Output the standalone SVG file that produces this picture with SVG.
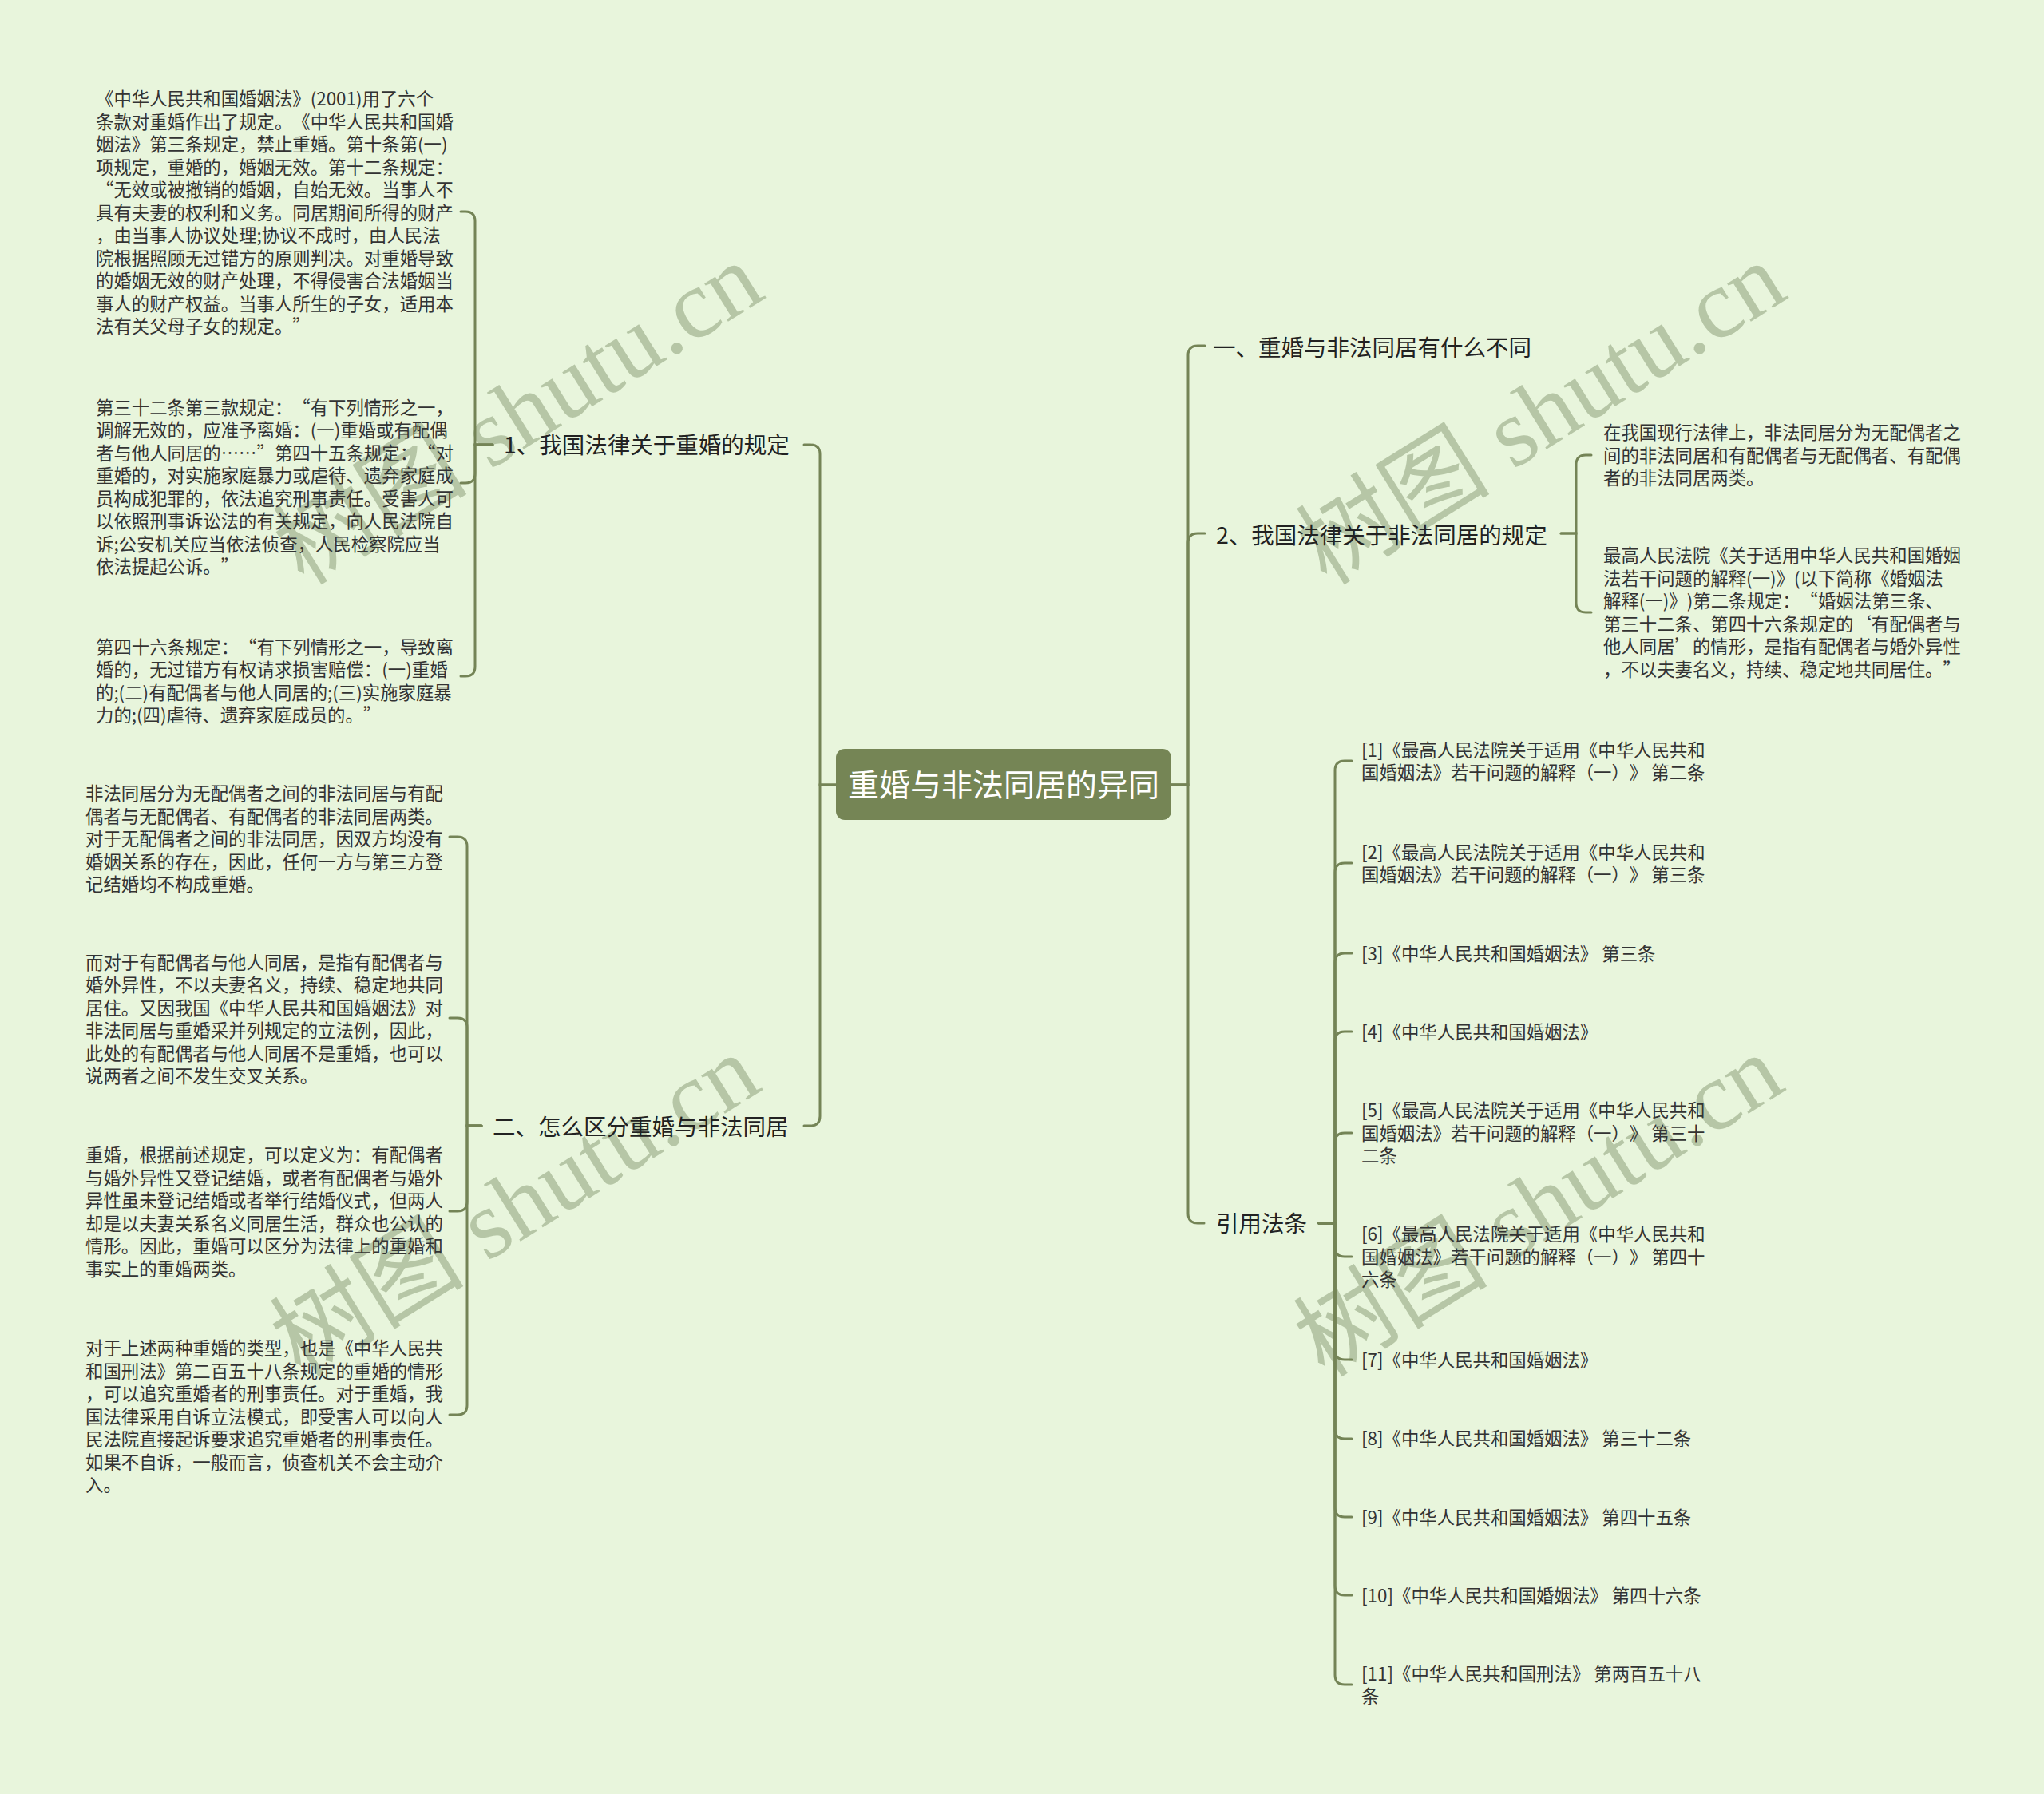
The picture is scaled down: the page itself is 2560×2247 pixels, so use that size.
<svg xmlns="http://www.w3.org/2000/svg" width="2560" height="2247" viewBox="0 0 2560 2247">
<style>
.conn{fill:none;stroke:#748456;stroke-width:3;stroke-linecap:round}
.body{font-family:"Noto Sans CJK SC","Noto Sans",sans-serif;font-size:22.4px;fill:#333333;text-spacing-trim:space-all}
.branch{font-family:"Noto Sans CJK SC","Noto Sans",sans-serif;font-size:28.5px;fill:#222222;text-spacing-trim:space-all}
.root{font-family:"Noto Sans CJK SC","Noto Sans",sans-serif;font-size:39px;fill:#ffffff}
.wm{font-family:"Liberation Serif","Noto Sans CJK SC",serif;font-size:122px;fill:#b6c6a6;text-anchor:middle;dominant-baseline:central}
</style>
<rect x="0" y="0" width="2560" height="2247" fill="#e8f5dc"/>
<g id="watermarks">
<text class="wm" transform="translate(649,518) rotate(-32)">树图 shutu.cn</text>
<text class="wm" transform="translate(1930,518) rotate(-32)">树图 shutu.cn</text>
<text class="wm" transform="translate(645,1510) rotate(-32)">树图 shutu.cn</text>
<text class="wm" transform="translate(1927,1510) rotate(-32)">树图 shutu.cn</text>
</g>
<g id="connectors">
<path class="conn" d="M1047,983 H1027 V569 Q1027,557 1015,557 H1007"/>
<path class="conn" d="M1047,983 H1027 V1398 Q1027,1410 1015,1410 H1007"/>
<path class="conn" d="M1467,983 H1488 V445 Q1488,433 1500,433 H1509"/>
<path class="conn" d="M1467,983 H1488 V680 Q1488,668 1500,668 H1509"/>
<path class="conn" d="M1467,983 H1488 V1520 Q1488,1532 1500,1532 H1508"/>
<path class="conn" d="M617,557 H595 V277 Q595,265 583,265 H577"/>
<path class="conn" d="M617,557 H595 V593 Q595,605 583,605 H577"/>
<path class="conn" d="M617,557 H595 V835 Q595,847 583,847 H577"/>
<path class="conn" d="M603,1410 H585 V1060 Q585,1048 573,1048 H563"/>
<path class="conn" d="M603,1410 H585 V1287 Q585,1275 573,1275 H563"/>
<path class="conn" d="M603,1410 H585 V1505 Q585,1517 573,1517 H563"/>
<path class="conn" d="M603,1410 H585 V1760 Q585,1772 573,1772 H563"/>
<path class="conn" d="M1955,668 H1974 V582 Q1974,570 1986,570 H1993"/>
<path class="conn" d="M1955,668 H1974 V755 Q1974,767 1986,767 H1993"/>
<path class="conn" d="M1652,1532 H1672 V965 Q1672,953 1684,953 H1693"/>
<path class="conn" d="M1652,1532 H1672 V1093 Q1672,1081 1684,1081 H1693"/>
<path class="conn" d="M1652,1532 H1672 V1206 Q1672,1194 1684,1194 H1693"/>
<path class="conn" d="M1652,1532 H1672 V1304 Q1672,1292 1684,1292 H1693"/>
<path class="conn" d="M1652,1532 H1672 V1431 Q1672,1419 1684,1419 H1693"/>
<path class="conn" d="M1652,1532 H1672 V1562 Q1672,1574 1684,1574 H1693"/>
<path class="conn" d="M1652,1532 H1672 V1691 Q1672,1703 1684,1703 H1693"/>
<path class="conn" d="M1652,1532 H1672 V1790 Q1672,1802 1684,1802 H1693"/>
<path class="conn" d="M1652,1532 H1672 V1888 Q1672,1900 1684,1900 H1693"/>
<path class="conn" d="M1652,1532 H1672 V1986 Q1672,1998 1684,1998 H1693"/>
<path class="conn" d="M1652,1532 H1672 V2098 Q1672,2110 1684,2110 H1693"/>
</g>
<g id="root">
<rect x="1047" y="938" width="420" height="89" rx="11" fill="#758555"/>
<text class="root" x="1257" y="997" text-anchor="middle">重婚与非法同居的异同</text>
</g>
<g id="branch-left-1">
<text class="branch" x="631" y="568">1、我国法律关于重婚的规定</text>
</g>
<g id="branch-left-2">
<text class="branch" x="617" y="1422">二、怎么区分重婚与非法同居</text>
</g>
<g id="branch-right-1">
<text class="branch" x="1519" y="446">一、重婚与非法同居有什么不同</text>
</g>
<g id="branch-right-2">
<text class="branch" x="1523" y="681">2、我国法律关于非法同居的规定</text>
</g>
<g id="branch-right-3">
<text class="branch" x="1523" y="1543">引用法条</text>
</g>
<g id="leaf-l1-1">
<text class="body">
<tspan x="120" y="132">《中华人民共和国婚姻法》(2001)用了六个</tspan>
<tspan x="120" y="160.5">条款对重婚作出了规定。《中华人民共和国婚</tspan>
<tspan x="120" y="189">姻法》第三条规定，禁止重婚。第十条第(一)</tspan>
<tspan x="120" y="217.5">项规定，重婚的，婚姻无效。第十二条规定：</tspan>
<tspan x="120" y="246">“无效或被撤销的婚姻，自始无效。当事人不</tspan>
<tspan x="120" y="274.5">具有夫妻的权利和义务。同居期间所得的财产</tspan>
<tspan x="120" y="303">，由当事人协议处理;协议不成时，由人民法</tspan>
<tspan x="120" y="331.5">院根据照顾无过错方的原则判决。对重婚导致</tspan>
<tspan x="120" y="360">的婚姻无效的财产处理，不得侵害合法婚姻当</tspan>
<tspan x="120" y="388.5">事人的财产权益。当事人所生的子女，适用本</tspan>
<tspan x="120" y="417">法有关父母子女的规定。”</tspan>
</text>
</g>
<g id="leaf-l1-2">
<text class="body">
<tspan x="120" y="518.5">第三十二条第三款规定：“有下列情形之一，</tspan>
<tspan x="120" y="547">调解无效的，应准予离婚：(一)重婚或有配偶</tspan>
<tspan x="120" y="575.5">者与他人同居的……”第四十五条规定：“对</tspan>
<tspan x="120" y="604">重婚的，对实施家庭暴力或虐待、遗弃家庭成</tspan>
<tspan x="120" y="632.5">员构成犯罪的，依法追究刑事责任。受害人可</tspan>
<tspan x="120" y="661">以依照刑事诉讼法的有关规定，向人民法院自</tspan>
<tspan x="120" y="689.5">诉;公安机关应当依法侦查，人民检察院应当</tspan>
<tspan x="120" y="718">依法提起公诉。”</tspan>
</text>
</g>
<g id="leaf-l1-3">
<text class="body">
<tspan x="120" y="818.5">第四十六条规定：“有下列情形之一，导致离</tspan>
<tspan x="120" y="847">婚的，无过错方有权请求损害赔偿：(一)重婚</tspan>
<tspan x="120" y="875.5">的;(二)有配偶者与他人同居的;(三)实施家庭暴</tspan>
<tspan x="120" y="904">力的;(四)虐待、遗弃家庭成员的。”</tspan>
</text>
</g>
<g id="leaf-l2-1">
<text class="body">
<tspan x="107" y="1002">非法同居分为无配偶者之间的非法同居与有配</tspan>
<tspan x="107" y="1030.5">偶者与无配偶者、有配偶者的非法同居两类。</tspan>
<tspan x="107" y="1059">对于无配偶者之间的非法同居，因双方均没有</tspan>
<tspan x="107" y="1087.5">婚姻关系的存在，因此，任何一方与第三方登</tspan>
<tspan x="107" y="1116">记结婚均不构成重婚。</tspan>
</text>
</g>
<g id="leaf-l2-2">
<text class="body">
<tspan x="107" y="1213.5">而对于有配偶者与他人同居，是指有配偶者与</tspan>
<tspan x="107" y="1242">婚外异性，不以夫妻名义，持续、稳定地共同</tspan>
<tspan x="107" y="1270.5">居住。又因我国《中华人民共和国婚姻法》对</tspan>
<tspan x="107" y="1299">非法同居与重婚采并列规定的立法例，因此，</tspan>
<tspan x="107" y="1327.5">此处的有配偶者与他人同居不是重婚，也可以</tspan>
<tspan x="107" y="1356">说两者之间不发生交叉关系。</tspan>
</text>
</g>
<g id="leaf-l2-3">
<text class="body">
<tspan x="107" y="1455">重婚，根据前述规定，可以定义为：有配偶者</tspan>
<tspan x="107" y="1483.5">与婚外异性又登记结婚，或者有配偶者与婚外</tspan>
<tspan x="107" y="1512">异性虽未登记结婚或者举行结婚仪式，但两人</tspan>
<tspan x="107" y="1540.5">却是以夫妻关系名义同居生活，群众也公认的</tspan>
<tspan x="107" y="1569">情形。因此，重婚可以区分为法律上的重婚和</tspan>
<tspan x="107" y="1597.5">事实上的重婚两类。</tspan>
</text>
</g>
<g id="leaf-l2-4">
<text class="body">
<tspan x="107" y="1697">对于上述两种重婚的类型，也是《中华人民共</tspan>
<tspan x="107" y="1725.5">和国刑法》第二百五十八条规定的重婚的情形</tspan>
<tspan x="107" y="1754">，可以追究重婚者的刑事责任。对于重婚，我</tspan>
<tspan x="107" y="1782.5">国法律采用自诉立法模式，即受害人可以向人</tspan>
<tspan x="107" y="1811">民法院直接起诉要求追究重婚者的刑事责任。</tspan>
<tspan x="107" y="1839.5">如果不自诉，一般而言，侦查机关不会主动介</tspan>
<tspan x="107" y="1868">入。</tspan>
</text>
</g>
<g id="leaf-r2-1">
<text class="body">
<tspan x="2008" y="550">在我国现行法律上，非法同居分为无配偶者之</tspan>
<tspan x="2008" y="578.5">间的非法同居和有配偶者与无配偶者、有配偶</tspan>
<tspan x="2008" y="607">者的非法同居两类。</tspan>
</text>
</g>
<g id="leaf-r2-2">
<text class="body">
<tspan x="2008" y="704">最高人民法院《关于适用中华人民共和国婚姻</tspan>
<tspan x="2008" y="732.5">法若干问题的解释(一)》(以下简称《婚姻法</tspan>
<tspan x="2008" y="761">解释(一)》)第二条规定：“婚姻法第三条、</tspan>
<tspan x="2008" y="789.5">第三十二条、第四十六条规定的‘有配偶者与</tspan>
<tspan x="2008" y="818">他人同居’的情形，是指有配偶者与婚外异性</tspan>
<tspan x="2008" y="846.5">，不以夫妻名义，持续、稳定地共同居住。”</tspan>
</text>
</g>
<g id="ref-1">
<text class="body"><tspan x="1705" y="947.5">[1]《最高人民法院关于适用《中华人民共和</tspan><tspan x="1705" y="976">国婚姻法》若干问题的解释（一）》 第二条</tspan></text>
</g>
<g id="ref-2">
<text class="body"><tspan x="1705" y="1075.5">[2]《最高人民法院关于适用《中华人民共和</tspan><tspan x="1705" y="1104">国婚姻法》若干问题的解释（一）》 第三条</tspan></text>
</g>
<g id="ref-3">
<text class="body" x="1705" y="1202.5">[3]《中华人民共和国婚姻法》 第三条</text>
</g>
<g id="ref-4">
<text class="body" x="1705" y="1300.5">[4]《中华人民共和国婚姻法》</text>
</g>
<g id="ref-5">
<text class="body"><tspan x="1705" y="1399">[5]《最高人民法院关于适用《中华人民共和</tspan><tspan x="1705" y="1427.5">国婚姻法》若干问题的解释（一）》 第三十</tspan><tspan x="1705" y="1456">二条</tspan></text>
</g>
<g id="ref-6">
<text class="body"><tspan x="1705" y="1554">[6]《最高人民法院关于适用《中华人民共和</tspan><tspan x="1705" y="1582.5">国婚姻法》若干问题的解释（一）》 第四十</tspan><tspan x="1705" y="1611">六条</tspan></text>
</g>
<g id="ref-7">
<text class="body" x="1705" y="1711.5">[7]《中华人民共和国婚姻法》</text>
</g>
<g id="ref-8">
<text class="body" x="1705" y="1810">[8]《中华人民共和国婚姻法》 第三十二条</text>
</g>
<g id="ref-9">
<text class="body" x="1705" y="1908.5">[9]《中华人民共和国婚姻法》 第四十五条</text>
</g>
<g id="ref-10">
<text class="body" x="1705" y="2006.5">[10]《中华人民共和国婚姻法》 第四十六条</text>
</g>
<g id="ref-11">
<text class="body"><tspan x="1705" y="2104.5">[11]《中华人民共和国刑法》 第两百五十八</tspan><tspan x="1705" y="2133">条</tspan></text>
</g>
</svg>
